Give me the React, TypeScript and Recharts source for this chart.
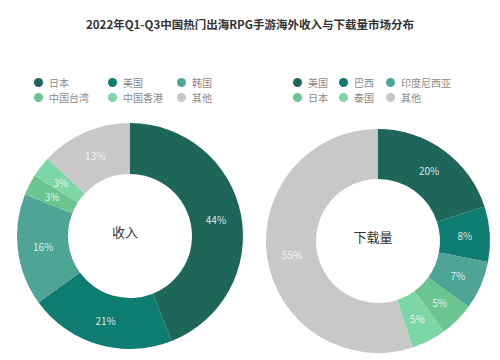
import { Pie, PieChart, Cell } from 'recharts';

const TITLE = '2022年Q1-Q3中国热门出海RPG手游海外收入与下载量市场分布';

const REVENUE_MARKETS = ['日本', '美国', '韩国', '中国台湾', '中国香港', '其他'];
const REVENUE_SHARE = [44, 21, 16, 3, 3, 13];

const DOWNLOAD_MARKETS = ['美国', '巴西', '印度尼西亚', '日本', '泰国', '其他'];
const DOWNLOAD_SHARE = [20, 8, 7, 5, 5, 55];

const COLORS = ['#1e6659', '#0e7c70', '#4ea495', '#6bc590', '#7dd6a6', '#c8c8c8'];

const FONT = '"Noto Sans CJK SC", "Noto Sans", sans-serif';
const RAD = Math.PI / 180;

const revenueData = REVENUE_MARKETS.map((name, i) => ({ name, value: REVENUE_SHARE[i] }));
const downloadData = DOWNLOAD_MARKETS.map((name, i) => ({ name, value: DOWNLOAD_SHARE[i] }));

const renderLabel = (props: any) => {
	const { cx, cy, midAngle, innerRadius, outerRadius, value } = props;
	const r = (innerRadius + outerRadius) / 2;
	const x = cx + r * Math.cos(-midAngle * RAD);
	const y = cy + r * Math.sin(-midAngle * RAD);
	return (
		<text
			x={x}
			y={y}
			fill="#ffffff"
			fillOpacity={0.85}
			fontSize={10}
			fontFamily={FONT}
			textAnchor="middle"
			dominantBaseline="central"
		>
			{`${value}%`}
		</text>
	);
};

const Legend = ({ names, left, cols }: { names: string[]; left: number; cols: number[] }) => (
	<div style={{ position: 'absolute', left, top: 75, width: 200 }}>
		{names.map((name, i) => (
			<div
				key={name}
				style={{
					position: 'absolute',
					left: cols[i % 3],
					top: Math.floor(i / 3) * 15,
					display: 'flex',
					alignItems: 'center',
					height: 14,
					fontSize: 10,
					color: '#8a8a8a',
					fontFamily: FONT,
					whiteSpace: 'nowrap',
				}}
			>
				<span
					style={{
						width: 9,
						height: 9,
						borderRadius: '50%',
						background: COLORS[i],
						marginRight: 6,
						display: 'inline-block',
					}}
				/>
				{name}
			</div>
		))}
	</div>
);

export default function App() {
	return (
		<div style={{ position: 'fixed', left: 0, top: 0, width: 500, height: 360, background: '#fff' }}>
			<div
				style={{
					position: 'absolute',
					top: 16,
					width: 500,
					textAlign: 'center',
					fontSize: 11.5,
					fontWeight: 700,
					color: '#333',
					fontFamily: FONT,
				}}
			>
				{TITLE}
			</div>
			<Legend names={REVENUE_MARKETS} left={34} cols={[0, 74, 143]} />
			<Legend names={DOWNLOAD_MARKETS} left={293} cols={[0, 46, 93]} />
			<PieChart width={500} height={360} style={{ position: 'absolute', left: 0, top: 0 }}>
				<Pie
					data={revenueData}
					dataKey="value"
					cx={125}
					cy={231}
					innerRadius={62}
					outerRadius={113}
					startAngle={90}
					endAngle={-270}
					stroke="none"
					label={renderLabel}
					labelLine={false}
					isAnimationActive={false}
				>
					{revenueData.map((_, i) => (
						<Cell key={`rev-${i}`} fill={COLORS[i]} />
					))}
				</Pie>
				<Pie
					data={downloadData}
					dataKey="value"
					cx={373}
					cy={236}
					innerRadius={62}
					outerRadius={112}
					startAngle={90}
					endAngle={-270}
					stroke="none"
					label={renderLabel}
					labelLine={false}
					isAnimationActive={false}
				>
					{downloadData.map((_, i) => (
						<Cell key={`dl-${i}`} fill={COLORS[i]} />
					))}
				</Pie>
				<text x={125} y={231} textAnchor="middle" dominantBaseline="central" fontSize={13} fill="#333" fontFamily={FONT}>
					收入
				</text>
				<text x={373} y={236} textAnchor="middle" dominantBaseline="central" fontSize={13} fill="#333" fontFamily={FONT}>
					下载量
				</text>
			</PieChart>
		</div>
	);
}
